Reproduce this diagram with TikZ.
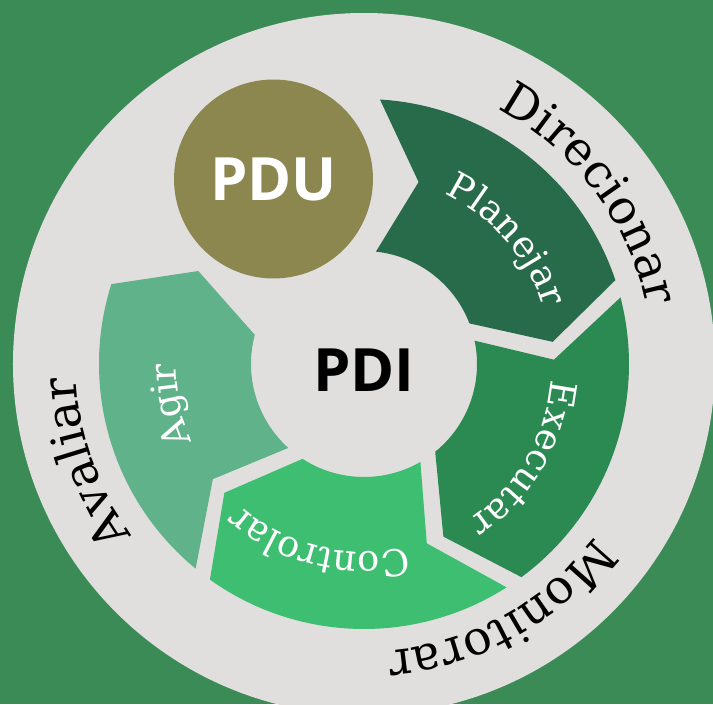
\documentclass[tikz,border=0pt]{standalone}
\usepackage{fontspec}
\setmainfont{DejaVu Serif}
\newfontfamily\headfont{Open Sans}
\usepackage{tikz}
\usetikzlibrary{decorations.text}

\definecolor{bggreen}{HTML}{3A8B55}
\definecolor{ringgray}{HTML}{E0DFDE}
\definecolor{planejar}{HTML}{276B4B}
\definecolor{executar}{HTML}{2B8A52}
\definecolor{controlar}{HTML}{3DBE71}
\definecolor{agir}{HTML}{5FB28A}
\definecolor{pdu}{HTML}{8B874E}

\newcommand\Ro{265}
\newcommand\Rm{190}
\newcommand\Ri{113}
\newcommand\ringfont{\fontsize{27}{30}\selectfont}
\newcommand\segfont{\fontsize{21}{24}\selectfont}

\tikzset{
  ringlabel/.style={decorate, decoration={text along path, text align=center, text={|\ringfont|#1}}},
  seglabel/.style={decorate, decoration={text along path, text align=center, text color=white, text={|\segfont|#1}}},
  headline/.style={inner sep=0pt, font=\headfont\bfseries\fontsize{34}{34}\selectfont}
}

\begin{document}
\begin{tikzpicture}[x=0.02cm, y=0.02cm]
%%%%% Background %%%%%
\fill[bggreen] (-364,-340) rectangle (349,364);
\useasboundingbox (-364,-340) rectangle (349,364);
\fill[ringgray] (0,0) circle[radius=351];
%%%%% Cycle segments %%%%%
\foreach \a/\col in {88.5/planejar,16.5/executar,-55.5/controlar,-127.5/agir}{
  \pgfmathsetmacro\b{\a-72}
  \fill[\col] ({\a-1.95}:\Ro) arc[start angle={\a-1.95}, end angle={\b+1.95}, radius=\Ro]
    -- ({\b-9.8}:\Rm) -- ({\b+4.56}:\Ri)
    arc[start angle={\b+4.56}, end angle={\a-4.56}, radius=\Ri]
    -- ({\a-15.2}:\Rm) -- cycle;
}
%%%%% Segment labels %%%%%
\path[seglabel=Planejar] (81:188) arc[start angle=81, end angle=1, radius=188];
\path[seglabel=Executar] (9.5:188) arc[start angle=9.5, end angle=-70.5, radius=188];
\path[seglabel=Controlar] (-64:188) arc[start angle=-64, end angle=-144, radius=188];
\path[seglabel=Agir] (232:188) arc[start angle=232, end angle=152, radius=188];
%%%%% Ring labels %%%%%
\path[ringlabel=Direcionar] (82:288) arc[start angle=82, end angle=-8, radius=288];
\path[ringlabel=Monitorar] (-16:288) arc[start angle=-16, end angle=-106, radius=288];
\path[ringlabel=Avaliar] (244.5:288) arc[start angle=244.5, end angle=154.5, radius=288];
%%%%% Centre and PDU %%%%%
\node[circle, fill=pdu, minimum size=3.98cm, headline, text=white] (pdu) at (-90.5,185) {PDU};
\node[headline, text=black] (pdi) at (0,-6) {PDI};
\end{tikzpicture}
\end{document}
